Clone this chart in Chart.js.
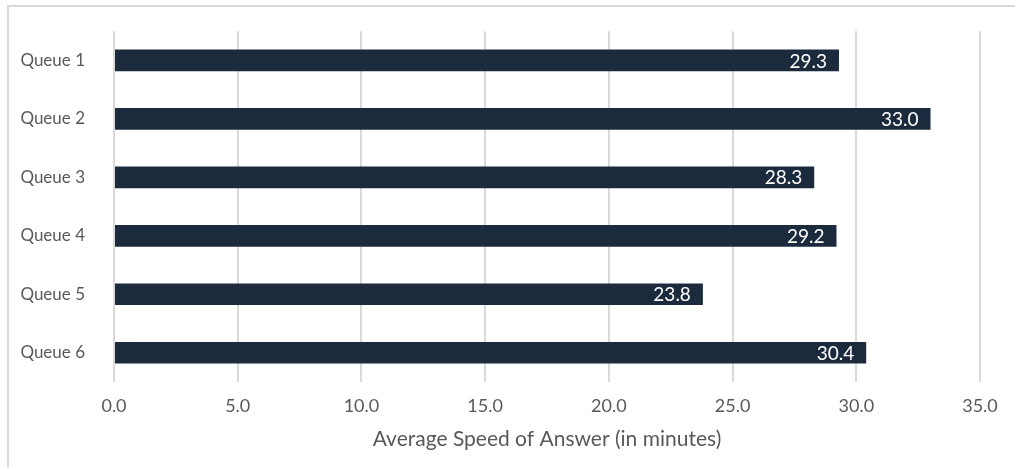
<!DOCTYPE html>
<html>
<head>
<meta charset="utf-8">
<script src="https://cdn.jsdelivr.net/npm/chart.js@4/dist/chart.umd.min.js"></script>
<style>
  html,body{margin:0;padding:0;background:#fff;}
  #wrap{position:relative;width:1015px;height:468px;overflow:hidden;}
  #frame{position:absolute;left:7px;top:5px;width:1100px;height:600px;border-top:2px solid #d9d9d9;border-left:2px solid #d9d9d9;}
  canvas{position:absolute;left:0;top:0;}
</style>
</head>
<body>
<div id="wrap">
  <div id="frame"></div>
  <canvas id="c" width="1015" height="468"></canvas>
</div>
<script>
// Data
const queues = ["Queue 1","Queue 2","Queue 3","Queue 4","Queue 5","Queue 6"];
const speedOfAnswer = [29.3, 33.0, 28.3, 29.2, 23.8, 30.4];
const axisTitle = "Average Speed of Answer (in minutes)";
const xMin = 0, xMax = 35, xStep = 5;

const FONT = "Lato, 'Open Sans', sans-serif";
const GREY = "#595959";

// value labels drawn inside the end of each bar
const barLabels = {
  id: "barLabels",
  afterDatasetsDraw(chart){
    const ctx = chart.ctx;
    const meta = chart.getDatasetMeta(0);
    ctx.save();
    ctx.font = "19px " + FONT;
    ctx.fillStyle = "#ffffff";
    ctx.textAlign = "right";
    ctx.textBaseline = "middle";
    meta.data.forEach((bar,i)=>{
      ctx.fillText(speedOfAnswer[i].toFixed(1), bar.x - 12, bar.y + 1);
    });
    ctx.restore();
  }
};

new Chart(document.getElementById("c"), {
  type: "bar",
  data: {
    labels: queues,
    datasets: [{
      data: speedOfAnswer,
      backgroundColor: "#1b2a3d",
      categoryPercentage: 1,
      barPercentage: 0.37
    }]
  },
  options: {
    indexAxis: "y",
    responsive: false,
    animation: false,
    layout: { padding: { top: 27, right: 35, left: 0, bottom: 16 } },
    plugins: { legend: { display: false }, tooltip: { enabled: false } },
    scales: {
      x: {
        min: xMin, max: xMax,
        ticks: {
          stepSize: xStep,
          color: GREY,
          font: { family: FONT, size: 18 },
          padding: 13,
          callback: v => Number(v).toFixed(1)
        },
        grid: { color: "#d9d9d9", lineWidth: 2, drawTicks: false },
        border: { display: false },
        title: {
          display: true, text: axisTitle, color: GREY,
          font: { family: FONT, size: 21 },
          padding: { top: 4, bottom: 0 }
        },
        afterFit(s){ s.height = 70; }
      },
      y: {
        ticks: {
          color: GREY,
          font: { family: FONT, size: 17 },
          padding: 21
        },
        grid: { display: false },
        border: { display: false },
        afterFit(s){ s.width = 114; }
      }
    }
  },
  plugins: [barLabels]
});
</script>
</body>
</html>
